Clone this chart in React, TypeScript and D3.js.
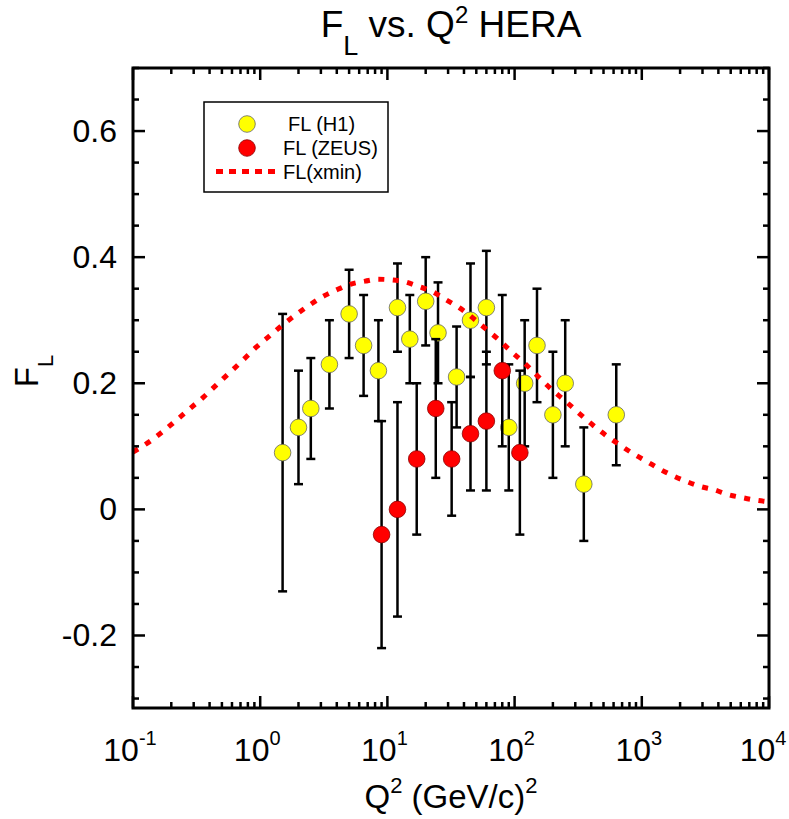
import React from 'react';
import * as d3 from 'd3';

// H1 measurements
const h1Q2 = [1.5, 2, 2.5, 3.5, 5, 6.5, 8.5, 12, 15, 20, 25, 35, 45, 60, 90, 120, 150, 200, 250, 350, 630];
const h1FL = [0.09, 0.13, 0.16, 0.23, 0.31, 0.26, 0.22, 0.32, 0.27, 0.33, 0.28, 0.21, 0.30, 0.32, 0.13, 0.20, 0.26, 0.15, 0.20, 0.04, 0.15];
const h1Err = [0.22, 0.09, 0.08, 0.07, 0.07, 0.08, 0.08, 0.07, 0.07, 0.07, 0.08, 0.08, 0.09, 0.09, 0.10, 0.10, 0.09, 0.10, 0.10, 0.09, 0.08];

// ZEUS measurements
const zeusQ2 = [9, 12, 17, 24, 32, 45, 60, 80, 110];
const zeusFL = [-0.04, 0.0, 0.08, 0.16, 0.08, 0.12, 0.14, 0.22, 0.09];
const zeusErr = [0.18, 0.17, 0.12, 0.11, 0.09, 0.09, 0.11, 0.12, 0.13];

// FL(xmin) curve
const curveQ2 = [0.1, 0.134, 0.173, 0.218, 0.281, 0.358, 0.451, 0.584, 0.726, 0.94, 1.2, 1.53, 1.95, 2.48, 3.2, 4.08, 5.1, 6.7, 8.45, 10.7, 13.6, 17.3, 22.3, 28.6, 36.7, 58, 76, 94.6, 124, 156, 201, 253, 323, 416, 526, 674, 859, 1094, 1409, 1771, 2259, 2915, 3706, 4670, 6030, 7660, 10000];
const curveFL = [0.091, 0.107, 0.124, 0.141, 0.16, 0.178, 0.197, 0.218, 0.236, 0.258, 0.276, 0.294, 0.31, 0.325, 0.339, 0.349, 0.357, 0.362, 0.365, 0.364, 0.361, 0.354, 0.346, 0.333, 0.32, 0.288, 0.268, 0.25, 0.229, 0.209, 0.188, 0.171, 0.152, 0.133, 0.117, 0.102, 0.088, 0.076, 0.063, 0.053, 0.044, 0.036, 0.031, 0.024, 0.019, 0.015, 0.012];

const yMajor = [-0.2, 0, 0.2, 0.4, 0.6];
const xDecades = [-1, 0, 1, 2, 3, 4];

const W = 789;
const H = 819;
const left = 133, right = 769, top = 68, bottom = 708;
const font = "'Liberation Sans', Arial, sans-serif";

const App = () => {
    const x = d3.scaleLog().domain([0.1, 10000]).range([left, right]);
    const y = d3.scaleLinear().domain([-0.315, 0.7]).range([bottom, top]);

    const line = d3.line<number>()
        .x((d, i) => x(curveQ2[i]))
        .y(d => y(d))
        .curve(d3.curveMonotoneX);

    // minor ticks
    const xMinor: number[] = [];
    for (let e = -1; e < 4; e++) {
        for (let m = 2; m <= 9; m++) xMinor.push(m * Math.pow(10, e));
    }
    const yMinor = d3.range(-0.3, 0.7001, 0.05).map(v => Math.round(v * 100) / 100)
        .filter(v => !yMajor.some(m => Math.abs(m - v) < 1e-6));

    const errBars = (qs: number[], vs: number[], es: number[], key: string) =>
        qs.map((q, i) => {
            const cx = x(q);
            const y1 = y(vs[i] + es[i]);
            const y2 = y(vs[i] - es[i]);
            return (
                <g key={key + i} stroke="#000" strokeWidth={2.5}>
                    <line x1={cx} x2={cx} y1={y1} y2={y2} />
                    <line x1={cx - 4.5} x2={cx + 4.5} y1={y1} y2={y1} />
                    <line x1={cx - 4.5} x2={cx + 4.5} y1={y2} y2={y2} />
                </g>
            );
        });

    const majLen = 12, minLen = 6;

    return (
        <svg width={W} height={H} style={{ position: 'absolute', left: 0, top: 0, background: '#fff' }}
            fontFamily={font}>
            {/* title */}
            <text x={(left + right) / 2} y={37} textAnchor="middle" fontSize={37}>
                F<tspan fontSize={27} dy={18}>L</tspan>
                <tspan dy={-18}> vs. Q</tspan>
                <tspan fontSize={24} dy={-14}>2</tspan>
                <tspan dy={14}> HERA</tspan>
            </text>

            {/* data */}
            {errBars(h1Q2, h1FL, h1Err, 'h')}
            {h1Q2.map((q, i) => (
                <circle key={'hc' + i} cx={x(q)} cy={y(h1FL[i])} r={8.3} fill="#ffff00" stroke="#666" strokeWidth={0.8} />
            ))}
            {errBars(zeusQ2, zeusFL, zeusErr, 'z')}
            {zeusQ2.map((q, i) => (
                <circle key={'zc' + i} cx={x(q)} cy={y(zeusFL[i])} r={8.3} fill="#ff0000" stroke="#8a0000" strokeWidth={0.8} />
            ))}
            <path d={line(curveFL) || ''} fill="none" stroke="#ff0000" strokeWidth={5} strokeDasharray="6,8.5" />

            {/* frame */}
            <rect x={left} y={top} width={right - left} height={bottom - top} fill="none" stroke="#000" strokeWidth={3} />

            {/* x ticks */}
            {xDecades.map(e => {
                const px = x(Math.pow(10, e));
                return (
                    <g key={'xd' + e}>
                        <line x1={px} x2={px} y1={bottom} y2={bottom - majLen} stroke="#000" strokeWidth={2.5} />
                        <line x1={px} x2={px} y1={top} y2={top + majLen} stroke="#000" strokeWidth={2.5} />
                        <text x={e === 4 ? px - 6 : px - 3} y={761} textAnchor="middle" fontSize={32}>
                            10<tspan fontSize={20} dy={-16}>{e}</tspan>
                        </text>
                    </g>
                );
            })}
            {xMinor.map((v, i) => {
                const px = x(v);
                return (
                    <g key={'xm' + i} stroke="#000" strokeWidth={2.5}>
                        <line x1={px} x2={px} y1={bottom} y2={bottom - minLen} />
                        <line x1={px} x2={px} y1={top} y2={top + minLen} />
                    </g>
                );
            })}

            {/* y ticks */}
            {yMajor.map(v => {
                const py = y(v);
                return (
                    <g key={'ym' + v}>
                        <line x1={left} x2={left + majLen} y1={py} y2={py} stroke="#000" strokeWidth={2.5} />
                        <line x1={right} x2={right - majLen} y1={py} y2={py} stroke="#000" strokeWidth={2.5} />
                        <text x={117} y={py + 11} textAnchor="end" fontSize={32}>
                            {v === 0 ? '0' : v.toFixed(1)}
                        </text>
                    </g>
                );
            })}
            {yMinor.map((v, i) => {
                const py = y(v);
                return (
                    <g key={'yn' + i} stroke="#000" strokeWidth={2.5}>
                        <line x1={left} x2={left + minLen} y1={py} y2={py} />
                        <line x1={right} x2={right - minLen} y1={py} y2={py} />
                    </g>
                );
            })}

            {/* axis titles */}
            <text x={(left + right) / 2} y={808} textAnchor="middle" fontSize={33}>
                Q<tspan fontSize={22} dy={-15}>2</tspan>
                <tspan dy={15}> (GeV/c)</tspan>
                <tspan fontSize={22} dy={-15}>2</tspan>
            </text>
            <text transform="translate(38,371) rotate(-90)" textAnchor="middle" fontSize={33}>
                F<tspan fontSize={22} dy={15}>L</tspan>
            </text>

            {/* legend */}
            <rect x={204} y={102} width={184} height={90} fill="#fff" stroke="#000" strokeWidth={1.5} />
            <circle cx={247} cy={124} r={8.3} fill="#ffff00" stroke="#666" strokeWidth={0.8} />
            <text x={288} y={131} fontSize={20}>FL (H1)</text>
            <circle cx={247} cy={148} r={8.3} fill="#ff0000" stroke="#8a0000" strokeWidth={0.8} />
            <text x={283} y={155} fontSize={20}>FL (ZEUS)</text>
            <line x1={216} x2={277} y1={171.5} y2={171.5} stroke="#ff0000" strokeWidth={5} strokeDasharray="7,6" />
            <text x={283} y={178.5} fontSize={20}>FL(xmin)</text>
        </svg>
    );
};

export default App;
